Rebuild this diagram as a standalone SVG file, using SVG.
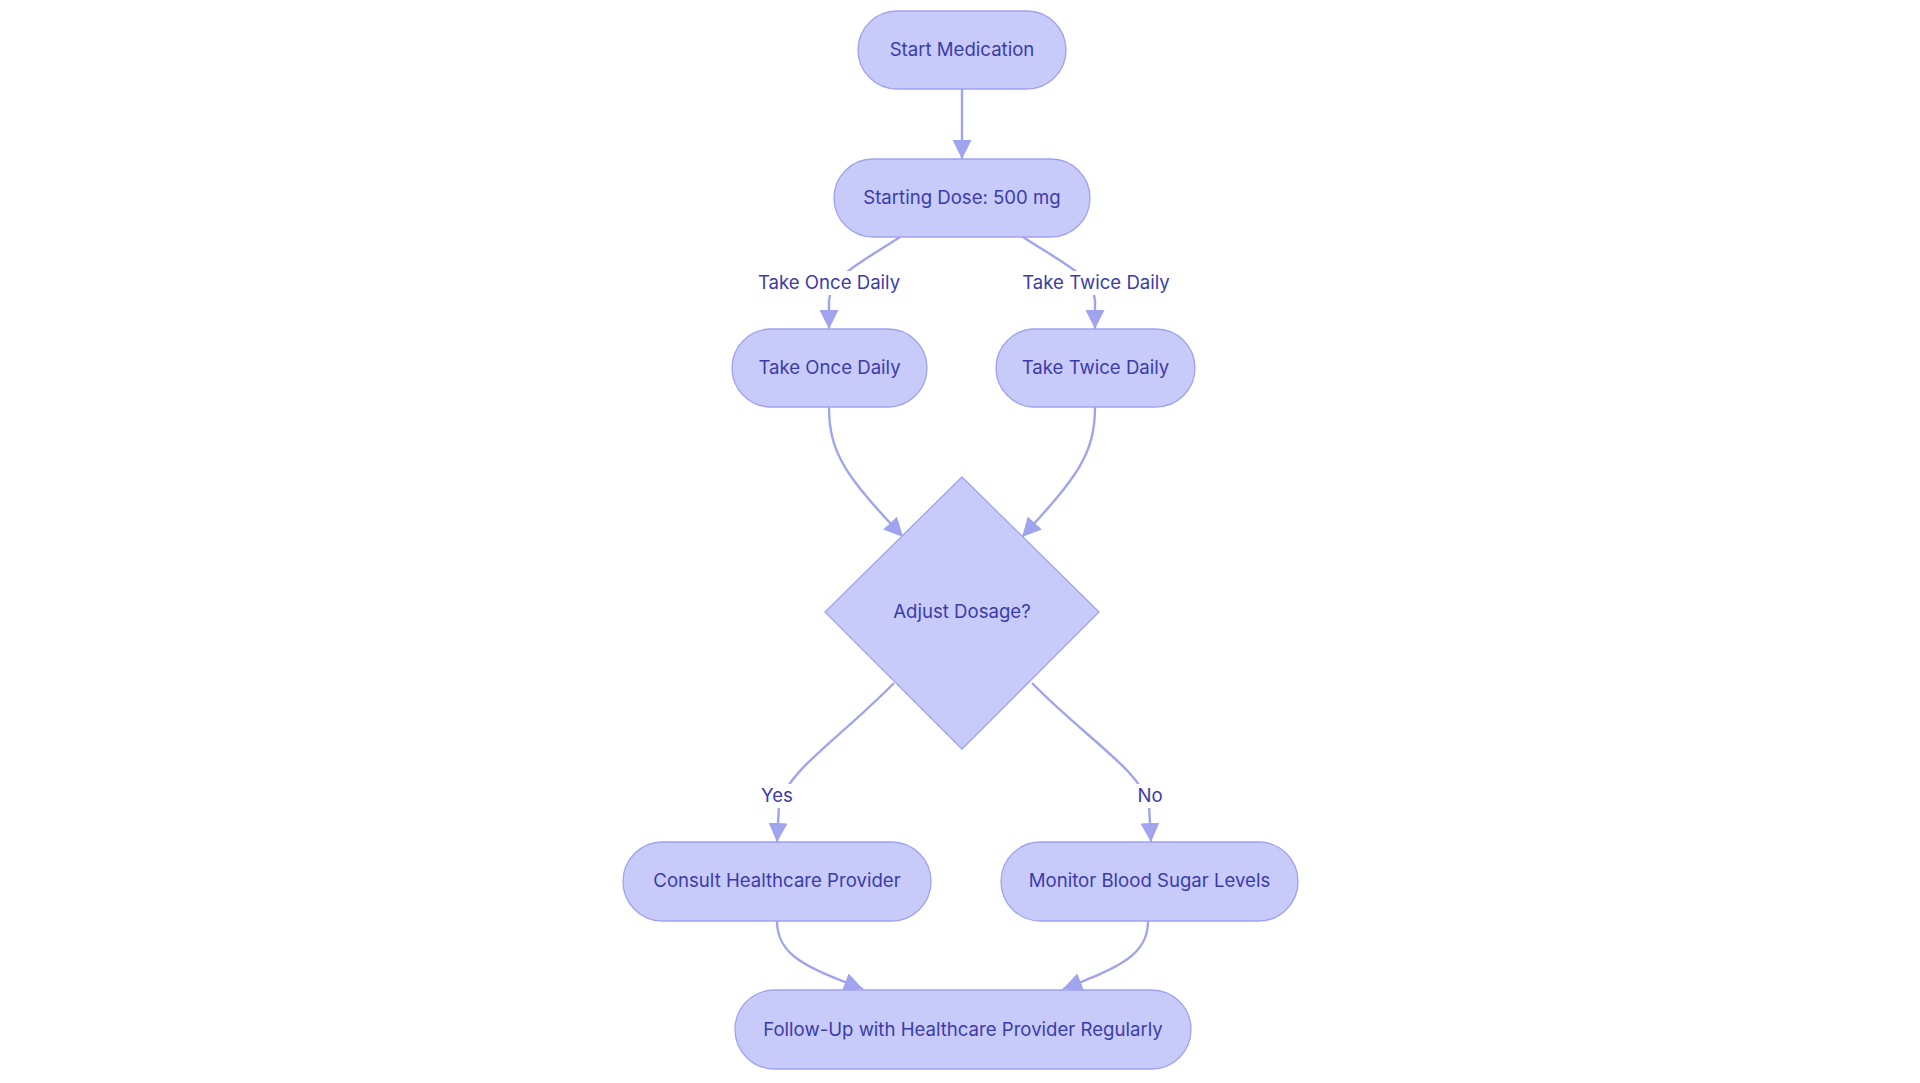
<svg xmlns="http://www.w3.org/2000/svg" width="1920" height="1083" viewBox="0 0 1920 1083">
<defs>
<style>
.node rect, .node polygon { fill: #c8cbfa; stroke: #9fa2ee; stroke-width: 1.3; }
.node text, .elabel text { font-family: Inter, "Noto Sans", "Liberation Sans", sans-serif; font-size: 18.6px; fill: #3b3bab; text-anchor: middle; dominant-baseline: central; }
.edge { fill: none; stroke: #a0a3ee; stroke-width: 2.4; marker-end: url(#arrow); }
.elabel rect { fill: #ffffff; }
</style>
<marker id="arrow" markerUnits="userSpaceOnUse" viewBox="0 0 10 10" refX="10" refY="5" markerWidth="19" markerHeight="19" orient="auto">
<path d="M0,0 L10,5 L0,10 z" fill="#a0a3ee"/>
</marker>
</defs>
<rect width="1920" height="1083" fill="#ffffff"/>
<g id="connectors">
<path class="edge" d="M962,89 L962,159"/>
<path class="edge" d="M900,237 C862,262 831,276 829,300 L829,329"/>
<path class="edge" d="M1023,237 C1061,262 1093,276 1095,300 L1095,329"/>
<path class="edge" d="M829,407 C829,455 848,478 903,537"/>
<path class="edge" d="M1095,407 C1095,455 1076,478 1022,537"/>
<path class="edge" d="M894,683 C838,740 788,770 779,805 L777,842"/>
<path class="edge" d="M1032,683 C1088,740 1140,770 1149,805 L1151,842"/>
<path class="edge" d="M777,921 C777,955 805,967 863,989"/>
<path class="edge" d="M1148,921 C1148,955 1120,967 1063,989"/>
</g>
<g id="edge-labels">
<g class="elabel" id="label-once"><rect x="758" y="271" width="142" height="24"/><text x="829" y="282">Take Once Daily</text></g>
<g class="elabel" id="label-twice"><rect x="1022" y="271" width="148" height="24"/><text x="1096" y="282">Take Twice Daily</text></g>
<g class="elabel" id="label-yes"><rect x="760" y="784" width="34" height="24"/><text x="777" y="795">Yes</text></g>
<g class="elabel" id="label-no"><rect x="1137" y="784" width="28" height="24"/><text x="1150" y="795">No</text></g>
</g>
<g class="node" id="start"><rect x="858" y="11" width="208" height="78" rx="39"/><text x="962" y="49">Start Medication</text></g>
<g class="node" id="dose"><rect x="834" y="159" width="256" height="78" rx="39"/><text x="962" y="197">Starting Dose: 500 mg</text></g>
<g class="node" id="once"><rect x="732" y="329" width="195" height="78" rx="39"/><text x="829.5" y="367">Take Once Daily</text></g>
<g class="node" id="twice"><rect x="996" y="329" width="199" height="78" rx="39"/><text x="1095.5" y="367">Take Twice Daily</text></g>
<g class="node" id="adjust"><polygon points="962,477 1099,612 962,749 825,612"/><text x="962" y="611">Adjust Dosage?</text></g>
<g class="node" id="consult"><rect x="623" y="842" width="308" height="79" rx="39.5"/><text x="777" y="880">Consult Healthcare Provider</text></g>
<g class="node" id="monitor"><rect x="1001" y="842" width="297" height="79" rx="39.5"/><text x="1149.5" y="880">Monitor Blood Sugar Levels</text></g>
<g class="node" id="followup"><rect x="735" y="990" width="456" height="79" rx="39.5"/><text x="963" y="1028.5">Follow-Up with Healthcare Provider Regularly</text></g>
</svg>
